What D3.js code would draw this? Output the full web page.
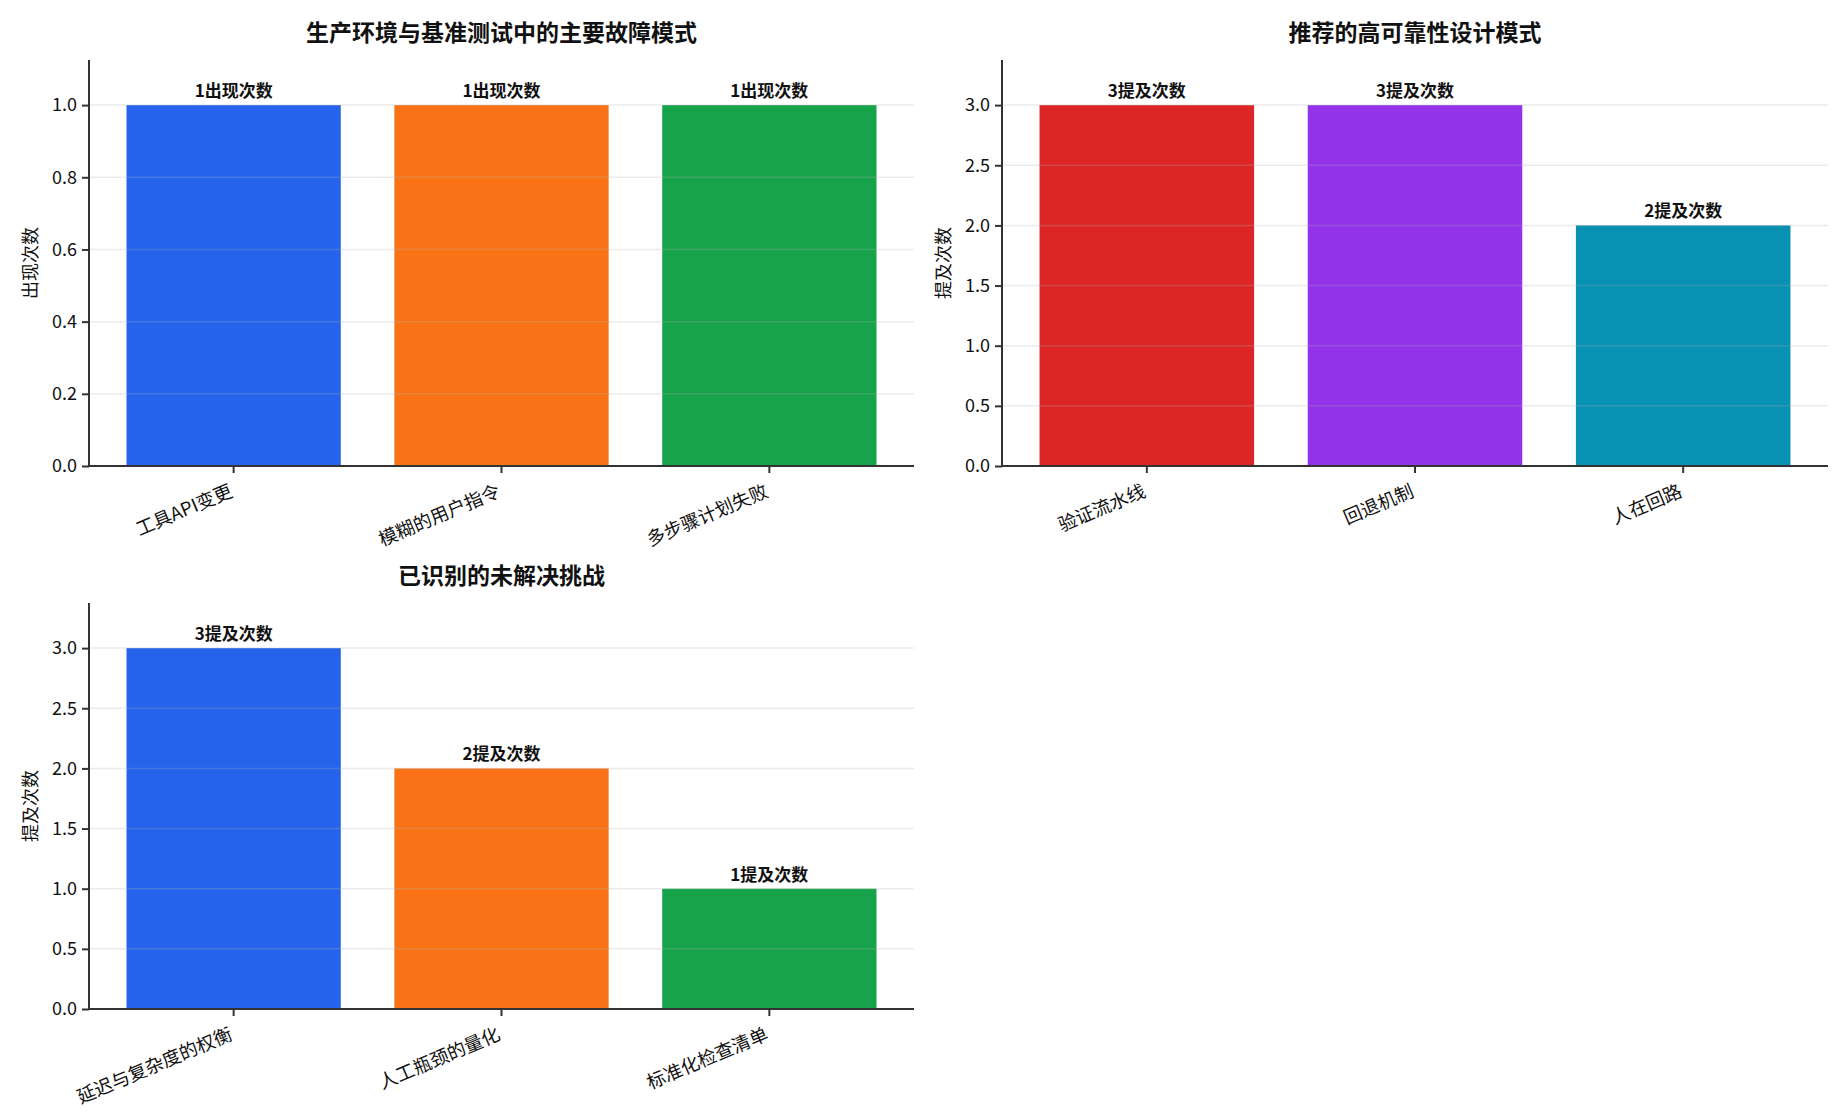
<!DOCTYPE html>
<html>
<head>
<meta charset="utf-8">
<script src="https://cdn.jsdelivr.net/npm/d3@7"></script>
<style>
  body { margin: 0; background: #fff; }
  text { font-family: "Noto Sans CJK SC", "Noto Sans", sans-serif; fill: #111; }
</style>
</head>
<body>
<svg id="chart" width="1848" height="1120"></svg>
<script>
// data
var failureModes = ["工具API变更", "模糊的用户指令", "多步骤计划失败"],
    failureCounts = [1, 1, 1];
var designPatterns = ["验证流水线", "回退机制", "人在回路"],
    designCounts = [3, 3, 2];
var challenges = ["延迟与复杂度的权衡", "人工瓶颈的量化", "标准化检查清单"],
    challengeCounts = [3, 2, 1];

var colorsA = ["#2563eb", "#f97316", "#16a34a"],
    colorsB = ["#dc2626", "#9333ea", "#0891b2"];

var panels = [
  { title: "生产环境与基准测试中的主要故障模式", cats: failureModes, vals: failureCounts,
    ylabel: "出现次数", unit: "出现次数", ticks: [0, 0.2, 0.4, 0.6, 0.8, 1.0], colors: colorsA,
    x0: 89, x1: 914, y0: 60, y1: 466, ylabX: 31 },
  { title: "推荐的高可靠性设计模式", cats: designPatterns, vals: designCounts,
    ylabel: "提及次数", unit: "提及次数", ticks: [0, 0.5, 1, 1.5, 2, 2.5, 3], colors: colorsB,
    x0: 1002, x1: 1828, y0: 60, y1: 466, ylabX: 944 },
  { title: "已识别的未解决挑战", cats: challenges, vals: challengeCounts,
    ylabel: "提及次数", unit: "提及次数", ticks: [0, 0.5, 1, 1.5, 2, 2.5, 3], colors: colorsA,
    x0: 89, x1: 914, y0: 603, y1: 1009, ylabX: 31 }
];

var svg = d3.select("#chart");

panels.forEach(function(p) {
  var g = svg.append("g");

  var x = d3.scaleBand()
      .domain(p.cats)
      .range([p.x0, p.x1])
      .paddingInner(0.2)
      .paddingOuter(0.14);

  var y = d3.scaleLinear()
      .domain([0, d3.max(p.vals) * 1.125])
      .range([p.y1, p.y0]);

  // bars
  g.selectAll("rect.bar")
    .data(p.vals)
    .enter().append("rect")
      .attr("class", "bar")
      .attr("x", function(d, i) { return x(p.cats[i]); })
      .attr("y", function(d) { return y(d); })
      .attr("width", x.bandwidth())
      .attr("height", function(d) { return y(0) - y(d); })
      .attr("fill", function(d, i) { return p.colors[i]; });

  // grid (drawn over bars, faint)
  g.selectAll("line.grid")
    .data(p.ticks.slice(1))
    .enter().append("line")
      .attr("x1", p.x0).attr("x2", p.x1)
      .attr("y1", function(d) { return y(d); })
      .attr("y2", function(d) { return y(d); })
      .attr("stroke", "#b0b0b0")
      .attr("stroke-opacity", 0.25)
      .attr("stroke-width", 1.5);

  // value labels
  g.selectAll("text.val")
    .data(p.vals)
    .enter().append("text")
      .attr("x", function(d, i) { return x(p.cats[i]) + x.bandwidth() / 2; })
      .attr("y", function(d) { return y(d) - 8; })
      .attr("text-anchor", "middle")
      .style("font-size", "17px")
      .style("font-weight", "bold")
      .text(function(d) { return d + p.unit; });

  // y axis
  var yAxis = g.append("g")
      .attr("transform", "translate(" + p.x0 + ",0)")
      .call(d3.axisLeft(y).tickValues(p.ticks).tickFormat(d3.format(".1f")).tickSize(7).tickPadding(5));
  // x axis
  var xAxis = g.append("g")
      .attr("transform", "translate(0," + p.y1 + ")")
      .call(d3.axisBottom(x).tickSize(7).tickPadding(6));

  [yAxis, xAxis].forEach(function(a) {
    a.select(".domain").attr("stroke", "#333").attr("stroke-width", 2);
    a.selectAll(".tick line").attr("stroke", "#333").attr("stroke-width", 2);
    a.selectAll("text").style("font-size", "18px").attr("fill", "#111");
  });
  yAxis.select(".domain").attr("d", "M0," + p.y1 + "V" + p.y0);
  xAxis.select(".domain").attr("d", "M" + p.x0 + ",0H" + p.x1);

  xAxis.selectAll(".tick text")
      .style("font-size", "18.5px")
      .attr("text-anchor", "end")
      .attr("dy", "0.7em")
      .attr("transform", "translate(-5,18) rotate(-23)")
      .attr("y", 0)
      .attr("x", 0);

  // y label
  g.append("text")
      .attr("transform", "translate(" + p.ylabX + "," + (p.y0 + p.y1) / 2 + ") rotate(-90)")
      .attr("text-anchor", "middle")
      .attr("dy", "0.35em")
      .style("font-size", "18px")
      .text(p.ylabel);

  // title
  g.append("text")
      .attr("x", (p.x0 + p.x1) / 2)
      .attr("y", p.y0 - 19)
      .attr("text-anchor", "middle")
      .style("font-size", "23px")
      .style("font-weight", "bold")
      .text(p.title);
});
</script>
</body>
</html>
